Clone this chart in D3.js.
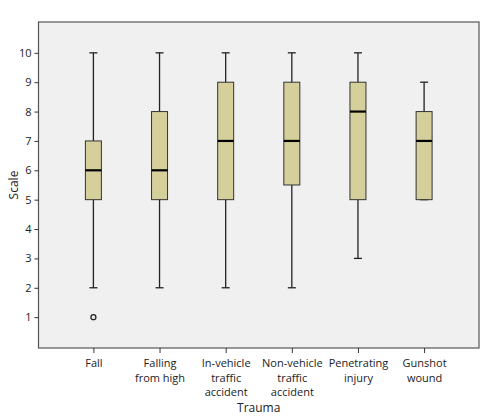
<!DOCTYPE html>
<html><head><meta charset="utf-8">
<script src="https://cdn.jsdelivr.net/npm/d3@7"></script>
<style>body{margin:0;background:#fff}text{font-family:"Open Sans",sans-serif;fill:#222}</style>
</head><body><div id="chart"></div>
<script>
const categories = [["Fall"], ["Falling", "from high"], ["In-vehicle", "traffic", "accident"], ["Non-vehicle", "traffic", "accident"], ["Penetrating", "injury"], ["Gunshot", "wound"]];
const mins = [2, 2, 2, 2, 3, 5];
const q1s = [5, 5, 5, 5.5, 5, 5];
const medians = [6, 6, 7, 7, 8, 7];
const q3s = [7, 8, 9, 9, 9, 8];
const maxs = [10, 10, 10, 10, 10, 9];
const outliers = [[0, 1]];
const yTicks = [1, 2, 3, 4, 5, 6, 7, 8, 9, 10];

const width = 503, height = 420;
const plotLeft = 38.5, plotRight = 479, plotTop = 22, plotBottom = 348;

const svg = d3.select("#chart").append("svg").attr("width", width).attr("height", height);

const x = d3.scalePoint().domain(d3.range(categories.length)).range([plotLeft, plotRight]).padding(0.83);
const y = d3.scaleLinear().domain([0, 11.05]).range([plotBottom - 1.5, plotTop]);

svg.append("rect").attr("x", plotLeft).attr("y", plotTop).attr("width", plotRight - plotLeft).attr("height", plotBottom - plotTop)
    .attr("fill", "#f0f0f0").attr("stroke", "#555").attr("stroke-width", 1.2);

svg.append("g").attr("transform", `translate(${plotLeft},0)`)
    .call(d3.axisLeft(y).tickValues(yTicks).tickSize(4).tickSizeOuter(0))
    .call(g => g.select(".domain").remove())
    .call(g => g.selectAll("line").attr("stroke", "#333"))
    .call(g => g.selectAll("text").attr("font-size", 11).attr("fill", "#222"));

const xa = svg.append("g").attr("transform", `translate(0,${plotBottom})`)
    .call(d3.axisBottom(x).tickSize(5).tickFormat(""))
    .call(g => g.select(".domain").remove())
    .call(g => g.selectAll("line").attr("stroke", "#333"));
xa.selectAll(".tick").append("text").attr("text-anchor", "middle").attr("font-size", 11)
    .selectAll("tspan").data(i => categories[i]).join("tspan")
    .attr("x", 0).attr("y", (d, j) => 19 + j * 14.5).text(d => d);

const bw = 16;
const box = svg.selectAll(".box").data(d3.range(categories.length)).join("g").attr("class", "box");
box.append("line").attr("x1", i => x(i)).attr("x2", i => x(i))
    .attr("y1", i => y(mins[i])).attr("y2", i => y(maxs[i])).attr("stroke", "#222").attr("stroke-width", 1.3);
[mins, maxs].forEach(arr => box.append("line")
    .attr("x1", i => x(i) - 4).attr("x2", i => x(i) + 4)
    .attr("y1", i => y(arr[i])).attr("y2", i => y(arr[i])).attr("stroke", "#222").attr("stroke-width", 1.3));
box.append("rect").attr("x", i => x(i) - bw / 2).attr("width", bw)
    .attr("y", i => y(q3s[i])).attr("height", i => y(q1s[i]) - y(q3s[i]))
    .attr("fill", "#d4cf9b").attr("stroke", "#333").attr("stroke-width", 1);
box.append("line").attr("x1", i => x(i) - bw / 2).attr("x2", i => x(i) + bw / 2)
    .attr("y1", i => y(medians[i])).attr("y2", i => y(medians[i])).attr("stroke", "#000").attr("stroke-width", 2.2);

svg.selectAll(".out").data(outliers).join("circle")
    .attr("cx", d => x(d[0])).attr("cy", d => y(d[1])).attr("r", 2.5)
    .attr("fill", "none").attr("stroke", "#222").attr("stroke-width", 1.3);

svg.append("text").attr("x", (plotLeft + plotRight) / 2).attr("y", 412).attr("text-anchor", "middle")
    .attr("font-size", 12).text("Trauma");
svg.append("text").attr("transform", `translate(18,${(plotTop + plotBottom) / 2}) rotate(-90)`)
    .attr("text-anchor", "middle").attr("font-size", 12).text("Scale");
</script></body></html>
